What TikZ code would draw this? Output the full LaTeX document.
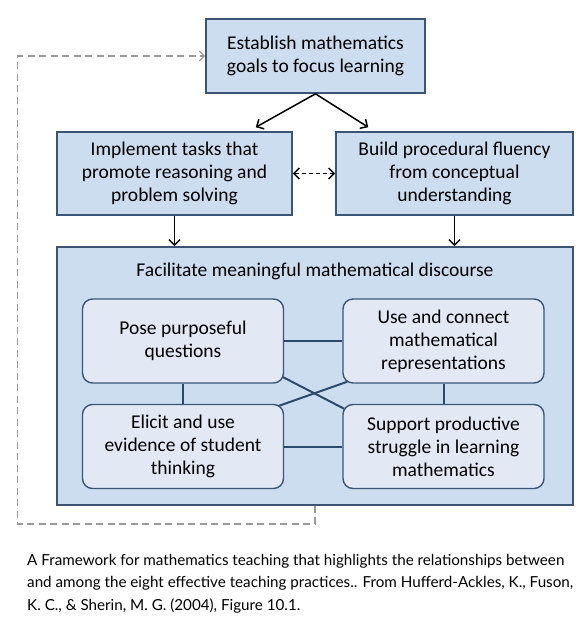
\documentclass[tikz,border=0pt]{standalone}
\usepackage{fontspec}
\setmainfont{Carlito}
\newfontfamily\capfont{Lato}
\usetikzlibrary{positioning}
\usetikzlibrary{arrows.meta}
\definecolor{boxfill}{HTML}{CDDDF0}
\definecolor{innerfill}{HTML}{E3E9F4}
\definecolor{boxline}{HTML}{3B5675}
\definecolor{linkline}{HTML}{2E4A6A}
\definecolor{loopgray}{HTML}{9A9A9A}
\pgfdeclarelayer{bg}
\pgfdeclarelayer{links}
\pgfsetlayers{bg,links,main}
\tikzset{practice/.style={
        draw=boxline, line width=1.6pt, fill=boxfill, align=center,
        inner sep=0pt, font=\fontsize{19.5}{23}\selectfont
    },
    innerbox/.style={
        draw=boxline, line width=1.4pt, fill=innerfill, rounded corners=10pt,
        align=center, inner sep=0pt, minimum width=201pt, minimum height=84pt,
        font=\fontsize{19.5}{23}\selectfont
    },
    link/.style={draw=linkline, line width=2pt},
    flow/.style={-{Straight Barb[length=5.5pt,width=11pt]}, black, line width=1.5pt},
    loopback/.style={-{Straight Barb[length=5pt,width=10pt]}, loopgray, line width=1.3pt,
        dash pattern=on 7pt off 4.5pt}
}

\begin{document}
\begin{tikzpicture}[x=1pt,y=-1pt]
           \useasboundingbox (0,0) rectangle (585,622);
           \node[practice, minimum width=219pt, minimum height=74pt] (goals) at (315.5,56) {Establish mathematics\\goals to focus learning};
           \node[practice, minimum width=235pt, minimum height=83pt] (tasks) at (174.5,173.5) {Implement tasks that\\promote reasoning and\\problem solving};
           \node[practice, minimum width=237pt, minimum height=83pt] (fluency) at (454.5,173.5) {Build procedural fluency\\from conceptual\\understanding};
           \begin{pgfonlayer}{bg}
           \node[practice, minimum width=516pt, minimum height=258pt] (discourse) at (315,376) {};
           \end{pgfonlayer}
           \node[font=\fontsize{19.5}{23}\selectfont] (dtitle) at (315,271) {Facilitate meaningful mathematical discourse};
           \node[innerbox] (questions) at (183,341) {Pose purposeful\\questions};
           \node[innerbox] (represent) at (443.5,341) {Use and connect\\mathematical\\representations};
           \node[innerbox] (evidence) at (183,446.5) {Elicit and use\\evidence of student\\thinking};
           \node[innerbox] (struggle) at (443.5,446.5) {Support productive\\struggle in learning\\mathematics};
           % links between the four practices
           \begin{pgfonlayer}{links}
           \draw[link] (questions) -- (represent);
           \draw[link] (evidence) -- (struggle);
           \draw[link] (questions) -- (evidence);
           \draw[link] (represent) -- (struggle);
           \draw[link] ([shift={(-2pt,7pt)}]questions.south east) -- ([shift={(2pt,-5pt)}]struggle.north west);
           \draw[link] ([shift={(-8pt,-3pt)}]evidence.north east) -- ([shift={(5pt,2pt)}]represent.south west);
           \end{pgfonlayer}
           % arrows
           \draw[flow] (goals.south) -- ([shift={(-37pt,4pt)}]tasks.north east);
           \draw[flow] (goals.south) -- ([shift={(33pt,4pt)}]fluency.north west);
           \draw[flow, {Straight Barb[length=5.5pt,width=11pt]}-{Straight Barb[length=5.5pt,width=11pt]}, dash pattern=on 4pt off 3pt] (tasks.east) -- (fluency.west);
           \draw[flow] (tasks.south) -- (tasks.south |- discourse.north);
           \draw[flow] (fluency.south) -- (fluency.south |- discourse.north);
           \coordinate (loopcorner) at (17.6,524);
           \draw[loopback] (discourse.south) |- (loopcorner) |- (goals.west);
           \node[font=\capfont\fontsize{15.2}{22.5}\selectfont, align=left, anchor=north west, inner sep=0pt] (caption) at (27,554)
               {A Framework for mathematics teaching that highlights the relationships between\\
                and among the eight effective teaching practices.. From Hufferd-Ackles, K., Fuson,\\
                K. C., \& Sherin, M. G. (2004), Figure 10.1.};
\end{tikzpicture}
\end{document}
